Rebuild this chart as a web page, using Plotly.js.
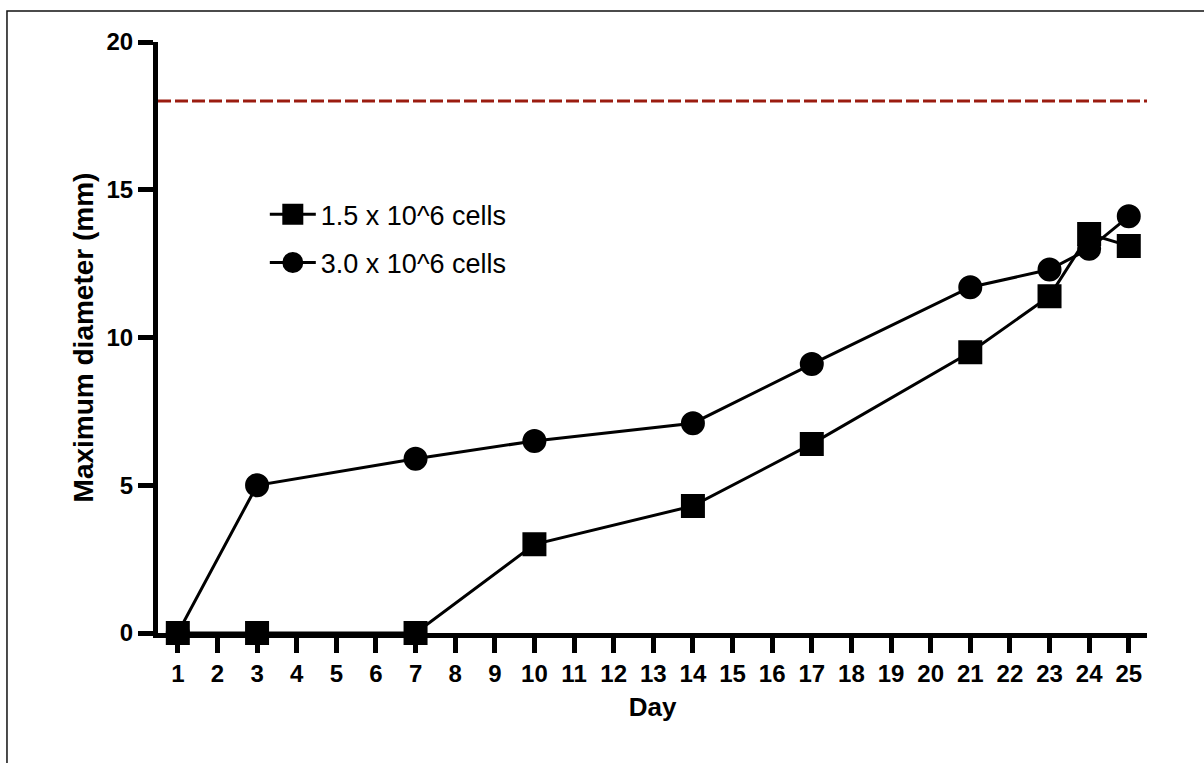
<!DOCTYPE html>
<html>
<head>
<meta charset="utf-8">
<script src="https://cdn.plot.ly/plotly-3.0.1.min.js"></script>
<style>
  html, body { margin: 0; padding: 0; background: #fff; }
  #chart { width: 1204px; height: 763px; }
</style>
</head>
<body>
<div id="chart"></div>
<script>
// Tumour growth: maximum diameter per measurement day
const days = [1, 3, 7, 10, 14, 17, 21, 23, 24, 25];
const lowDose = [0, 0, 0, 3.0, 4.3, 6.4, 9.5, 11.4, 13.5, 13.1];   // 1.5 x 10^6 cells
const highDose = [0, 5.0, 5.9, 6.5, 7.1, 9.1, 11.7, 12.3, 13.0, 14.1]; // 3.0 x 10^6 cells
const seriesNames = ['1.5 x 10^6 cells', '3.0 x 10^6 cells'];
const humaneEndpoint = 18; // mm, dashed limit line
const xTicks = [1, 2, 3, 4, 5, 6, 7, 8, 9, 10, 11, 12, 13, 14, 15, 16, 17, 18, 19, 20, 21, 22, 23, 24, 25];
const yTicks = [0, 5, 10, 15, 20];

const FONT = 'Arial, "Liberation Sans", Helvetica, sans-serif';

const common = {
  x: days,
  type: 'scatter',
  mode: 'lines+markers',
  cliponaxis: false,
  line: { color: '#000', width: 3 },
};

const traces = [
  Object.assign({}, common, {
    y: lowDose,
    name: seriesNames[0],
    legendgroup: 'low',
    marker: { symbol: 'square', size: 19, color: '#000', line: { color: '#000', width: 5 } },
  }),
  Object.assign({}, common, {
    y: highDose,
    name: seriesNames[1],
    legendgroup: 'high',
    marker: { symbol: 'circle', size: 19, color: '#000', line: { color: '#000', width: 5 } },
  }),
];

const axisCommon = {
  showgrid: false,
  zeroline: false,
  showline: true,
  linecolor: '#000',
  linewidth: 5,
  ticks: 'outside',
  tickcolor: '#000',
  tickwidth: 5,
  ticklen: 15,
  tickfont: { family: FONT, size: 24, color: '#000', weight: 'bold' },
};

const layout = {
  width: 1204,
  height: 763,
  margin: { l: 158, r: 57, t: 42, b: 130, pad: 0 },
  paper_bgcolor: '#fff',
  plot_bgcolor: '#fff',
  showlegend: true,
  legend: {
    x: 0.108, y: 0.667, xanchor: 'left', yanchor: 'middle',
    bgcolor: 'rgba(0,0,0,0)',
    font: { family: FONT, size: 27, color: '#000' },
    itemwidth: 46,
    tracegroupgap: 10,
    traceorder: 'grouped',
  },
  xaxis: Object.assign({}, axisCommon, {
    range: [0.5, 25.46],
    tickmode: 'array',
    tickvals: xTicks,
    ticktext: xTicks.map(String),
    title: { text: 'Day', font: { family: FONT, size: 26, color: '#000', weight: 'bold' }, standoff: 14 },
  }),
  yaxis: Object.assign({}, axisCommon, {
    range: [0, 20],
    tickmode: 'array',
    tickvals: yTicks,
    ticktext: yTicks.map(String),
    title: { text: 'Maximum diameter (mm)', font: { family: FONT, size: 28, color: '#000', weight: 'bold' }, standoff: 6 },
  }),
  shapes: [
    {
      type: 'line', xref: 'paper', yref: 'y',
      x0: 0, x1: 1, y0: humaneEndpoint, y1: humaneEndpoint,
      line: { color: '#9b1c10', width: 3, dash: '13px,4px' },
    },
    {
      // outer figure frame
      type: 'rect', xref: 'paper', yref: 'paper',
      x0: -0.1527, x1: 1.2, y0: -0.4, y1: 1.0525,
      line: { color: '#111', width: 1.5 },
      fillcolor: 'rgba(0,0,0,0)',
    },
  ],
};

Plotly.newPlot('chart', traces, layout, { displayModeBar: false, staticPlot: true });
</script>
</body>
</html>
